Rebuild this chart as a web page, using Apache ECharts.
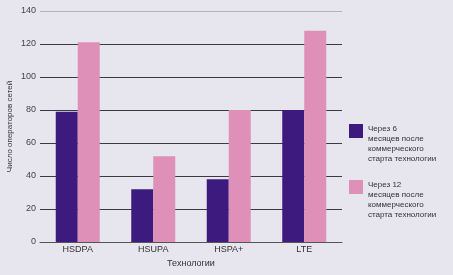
<!DOCTYPE html>
<html>
<head>
<meta charset="utf-8">
<script src="https://cdn.jsdelivr.net/npm/echarts@6/dist/echarts.min.js"></script>
<style>
  html, body { margin: 0; padding: 0; background: #e7e5ee; }
  #chart { width: 453px; height: 275px; }
</style>
</head>
<body>
<div id="chart"></div>
<script>
// данные графика
const categories = ["HSDPA", "HSUPA", "HSPA+", "LTE"];
const after6 = [79, 32, 38, 80];
const after12 = [121, 52, 80, 128];
const legendNames = [
  "Через 6\nмесяцев после\nкоммерческого\nстарта технологии",
  "Через 12\nмесяцев после\nкоммерческого\nстарта технологии",
];

const chart = echarts.init(document.getElementById("chart"));

const gridColors = ["#3a3a44", "#3a3a44", "#3a3a44", "#3a3a44", "#3a3a44", "#3a3a44", "#3a3a44", "#b4b3bd"];

// квадрат легенды прижат к верху текста
const legendIcon = "path://M0,0h14v14h-14z M0,39.9h0.05v0.05h-0.05z";

const option = {
  animation: false,
  backgroundColor: "#e7e5ee",
  textStyle: { fontFamily: "Liberation Sans Narrow, Liberation Sans, sans-serif" },
  grid: { left: 40, right: 111, top: 11, bottom: 33, containLabel: false, outerBoundsMode: "none" },
  legend: {
    orient: "vertical",
    left: 344,
    top: 119,
    itemWidth: 14,
    itemHeight: 40,
    itemGap: 16,
    icon: legendIcon,
    textStyle: { fontSize: 8, color: "#333", lineHeight: 10 },
    data: legendNames,
  },
  xAxis: {
    type: "category",
    data: categories,
    name: "Технологии",
    nameLocation: "middle",
    nameGap: 17,
    nameTextStyle: { fontSize: 9, color: "#333" },
    axisLine: { lineStyle: { color: "#555" } },
    axisTick: { show: false },
    axisLabel: { fontSize: 9, color: "#333", margin: 3 },
  },
  yAxis: {
    type: "value",
    min: 0,
    max: 140,
    interval: 20,
    name: "Число операторов сетей",
    nameLocation: "middle",
    nameGap: 26,
    nameMoveOverlap: false,
    nameTextStyle: { fontSize: 8, color: "#333" },
    axisLine: { show: false },
    axisTick: { show: false },
    axisLabel: { fontSize: 9, color: "#444", margin: 4 },
    splitLine: { lineStyle: { color: gridColors, width: 1 } },
  },
  series: [
    {
      name: legendNames[0],
      type: "bar",
      data: after6,
      barWidth: 22,
      barGap: "0%",
      itemStyle: { color: "#3d1b7e" },
    },
    {
      name: legendNames[1],
      type: "bar",
      data: after12,
      barWidth: 22,
      itemStyle: { color: "#df90b8" },
    },
  ],
};

chart.setOption(option);
</script>
</body>
</html>
